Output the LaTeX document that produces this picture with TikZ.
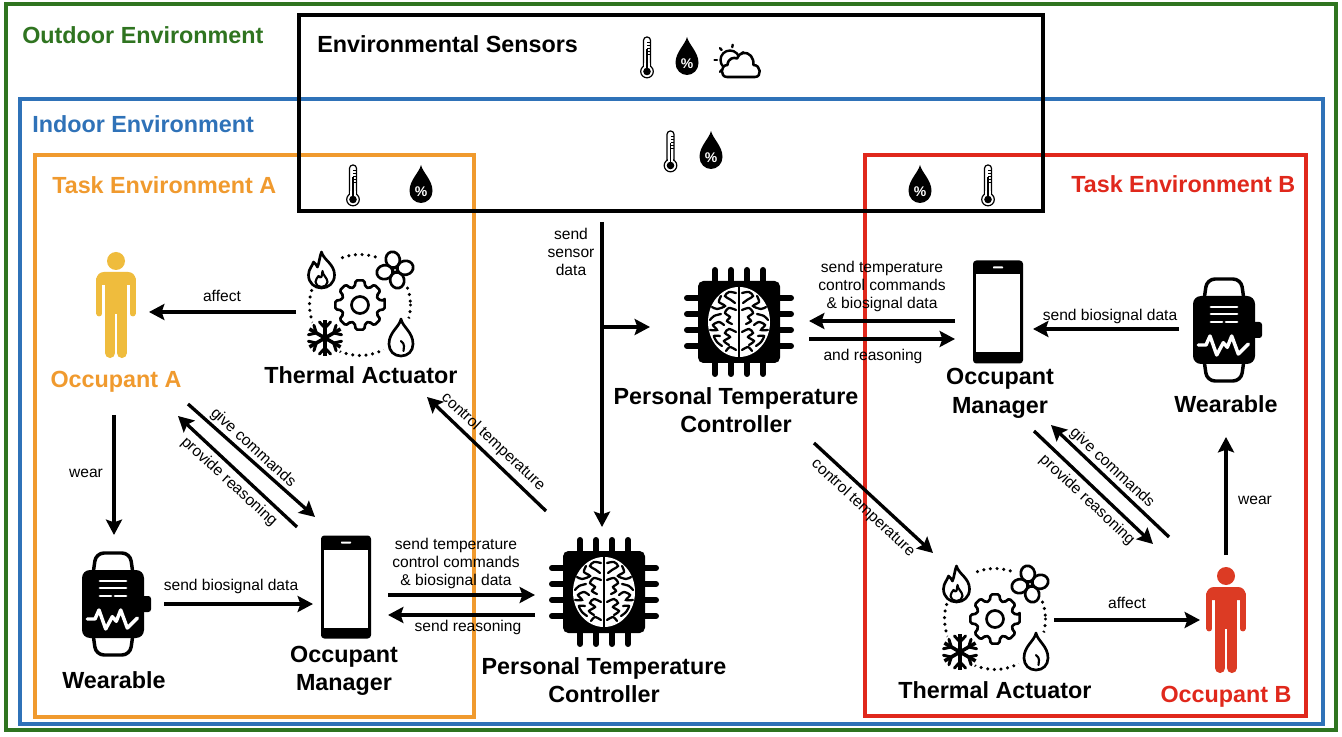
\documentclass[tikz,border=0pt]{standalone}
\usepackage{fontspec}
\setmainfont{Liberation Sans}
\usetikzlibrary{arrows.meta}
\definecolor{cgreen}{HTML}{2F7420}
\definecolor{cblue}{HTML}{2F72B8}
\definecolor{corange}{HTML}{F09A2E}
\definecolor{cred}{HTML}{E0281C}
\definecolor{cpy}{HTML}{EFBC3D}
\definecolor{cpr}{HTML}{DC3B24}
\tikzset{
  region/.style={draw,rectangle,line width=3pt,inner sep=0pt,outer sep=0pt},
  iconbox/.style={inner sep=0pt,outer sep=0pt,minimum size=1pt},
  arr/.style={line width=2.5pt,-{Stealth[length=11.5pt,width=12pt,inset=2pt]}},
  small/.style={font=\fontsize{11.7}{13.8}\selectfont,align=center,inner sep=0pt},
  big/.style={font=\fontsize{17.5}{21.4}\selectfont\bfseries,align=center,inner sep=0pt},
  head/.style={font=\fontsize{17.5}{20}\selectfont\bfseries,anchor=west,inner sep=0pt},
  ol/.style={line width=2pt,line join=round,line cap=round},
}
\newcommand{\iconThermo}[2]{\begin{scope}[shift={(#1,#2)}]
  \draw[line width=.9pt,fill=white,rounded corners=2.5pt] (-3.5,0) rectangle (3.5,34);
  \draw[line width=.9pt,fill=white] (0,34.5) circle[radius=6.3];
  \fill[white] (-2.8,26) rectangle (2.8,33);
  \fill (0,34.5) circle[radius=3.8];
  \draw[line width=1.4pt] (0,34) -- (0,12);
  \draw[line width=.6pt] (0,5)--(3.5,5) (0,8)--(3.5,8) (0,11)--(3.5,11) (0,14)--(3.5,14) (0,17)--(3.5,17);
\end{scope}}
\newcommand{\iconDrop}[3]{\begin{scope}[shift={(#2,#3)}]
  \fill (0,0) .. controls (2,8) and (11.5,15) .. (11.5,26) .. controls (11.5,33) and (6,38) .. (0,38) .. controls (-6,38) and (-11.5,33) .. (-11.5,26) .. controls (-11.5,15) and (-2,8) .. (0,0) -- cycle;
  \node[text=white,inner sep=0pt,font=\fontsize{10.5}{10.5}\selectfont\bfseries] (#1) at (0,26.5) {\%};
\end{scope}}
\newcommand{\iconCloud}[2]{\begin{scope}[shift={(#1,#2)}]
  \begin{scope}[shift={(15,17)}]
    \draw[line width=1.8pt] (0,0) circle[radius=9.5];
    \foreach \a in {20,-30,-80,-130,-180,130,80}{\draw[line width=1.8pt,line cap=round] (\a:13) -- (\a:15.5);}
  \end{scope}
  \draw[line width=1.9pt,fill=white,line join=round] (12,34) .. controls (5,34) and (5,22) .. (12.5,22) .. controls (13,15) and (19,14) .. (22,15.5) .. controls (24,9) and (32,8) .. (36,13) .. controls (38,16) and (39,19) .. (38.5,22) .. controls (46,22) and (47,34) .. (40,34) -- cycle;
\end{scope}}
\newcommand{\iconPerson}[3]{\begin{scope}[shift={(#1,#2)},#3]
  \fill[#3] (0,-44) circle[radius=9];
  \fill[#3] (-19.5,-20) [rounded corners=5.5pt] -- (-19.5,-33) -- (19.5,-33) [sharp corners] -- (19.5,-20) -- cycle;
  \fill[#3] (-11,-33) rectangle (11,9);
  \draw[#3,line width=4.4pt,line cap=round] (-16.6,-26) -- (-16.6,8.5);
  \draw[#3,line width=4.4pt,line cap=round] (16.6,-26) -- (16.6,8.5);
  \draw[#3,line width=7.6pt,line cap=round] (-5.8,5) -- (-5.8,48);
  \draw[#3,line width=7.6pt,line cap=round] (5.8,5) -- (5.8,48);
\end{scope}}
\newcommand{\iconPhone}[2]{\begin{scope}[shift={(#1,#2)}]
  \fill[rounded corners=2.5pt] (-25,-51.5) rectangle (25,51.5);
  \fill[white] (-22,-37.5) rectangle (22,40.5);
  \fill[white,rounded corners=.5pt] (-5,-45.5) rectangle (5,-43.5);
\end{scope}}
\newcommand{\iconWatch}[2]{\begin{scope}[shift={(#1,#2)}]
  \draw[line width=2.6pt,rounded corners=6pt] (-20,-30) -- (-17,-51) -- (17,-51) -- (20,-30);
  \draw[line width=2.6pt,rounded corners=6pt] (-20,30) -- (-17,51) -- (17,51) -- (20,30);
  \fill[rounded corners=2pt] (25,-8) rectangle (38,8);
  \fill[rounded corners=6pt] (-31,-34) rectangle (31,34);
  \draw[white,line width=2.2pt,line cap=round] (-13,-23)--(13,-23) (-13,-16)--(13,-16) (-13,-8)--(-2,-8) (2,-8)--(13,-8);
  \draw[white,line width=2.6pt,line cap=round,line join=round] (-25.7,15)--(-18,15)--(-14,6)--(-7.3,25)--(-0.7,12.7)--(3.3,17.3)--(7.7,6)--(14.3,24)--(24.3,14);
\end{scope}}
\newcommand{\brainHalf}{
  \draw[line width=1.7pt,line cap=round] plot[smooth] coordinates {(3,-29) (10,-30) (14,-26) (8,-22) (4,-19)};
  \draw[line width=1.7pt,line cap=round] plot[smooth] coordinates {(18,-26) (20,-20) (14,-16) (22,-13) (27,-15)};
  \draw[line width=1.7pt,line cap=round] plot[smooth] coordinates {(3,-12) (10,-14) (14,-9) (9,-5) (12,-1) (7,2)};
  \draw[line width=1.7pt,line cap=round] plot[smooth] coordinates {(18,-8) (25,-6) (29,-2)};
  \draw[line width=1.7pt,line cap=round] plot[smooth] coordinates {(15,3) (20,0) (26,3) (22,8) (29,8)};
  \draw[line width=1.7pt,line cap=round] plot[smooth] coordinates {(3,10) (10,7) (14,11) (9,15) (15,19) (10,23)};
  \draw[line width=1.7pt,line cap=round] plot[smooth] coordinates {(19,14) (25,14) (22,20) (17,24)};
  \draw[line width=1.7pt,line cap=round] plot[smooth] coordinates {(3,28) (9,25) (13,29)};
}
\newcommand{\iconChip}[2]{\begin{scope}[shift={(#1,#2)}]
  \foreach \p in {-24,-8,8,24}{
    \draw[line width=4.5pt,line cap=round] (\p,-52) -- (\p,52);
    \draw[line width=4.5pt,line cap=round] (-52,\p) -- (52,\p);
  }
  \fill[rounded corners=4pt] (-41,-41) rectangle (41,41);
  \fill[white] (0,0) ellipse[x radius=31,y radius=35];
  \draw[line width=1pt] (0,-35) -- (0,35);
  \brainHalf
  \begin{scope}[xscale=-1]\brainHalf\end{scope}
\end{scope}}
\newcommand{\iconActuator}[2]{\begin{scope}[shift={(#1,#2)}]
  \draw[line width=2.6pt,line cap=round,dash pattern=on 0pt off 5pt] (0,0) circle[radius=50.5];
  % gear
  \draw[ol,rounded corners=1.2pt] (-10:25) \foreach \a in {0,45,...,315}{ -- (\a-10:25) -- (\a+10:25) -- (\a+16:19) -- (\a+29:19) } -- cycle;
  \draw[ol] (0,0) circle[radius=8.5];
  % flame
  \begin{scope}[shift={(-38.5,-35)}]
    \fill[white] (0,0) circle[radius=21];
    \draw[ol] (0,-18) .. controls (2,-10) and (13,-6) .. (13,5) .. controls (13,13) and (7,18) .. (0,18) .. controls (-7,18) and (-13,13) .. (-13,5) .. controls (-13,-1) and (-9,-4) .. (-8,-8) .. controls (-6,-6) and (-5,-5) .. (-4,-3) .. controls (-2,-8) and (-2,-13) .. (0,-18) -- cycle;
    \draw[line width=1.6pt,line join=round] (1,1) .. controls (1,5) and (6,8) .. (6,12) .. controls (6,15) and (3,17) .. (0,17) .. controls (-3,17) and (-6,15) .. (-6,12) .. controls (-6,9) and (-4,8) .. (-3,6) .. controls (-2,7) and (-1,8) .. (0,7) .. controls (1,5) and (0,3) .. (1,1) -- cycle;
  \end{scope}
  % fan
  \begin{scope}[shift={(35,-35)}]
    \fill[white] (0,0) circle[radius=20];
    \foreach \a in {12,102,192,282}{\draw[ol,rotate=\a] (10.5,0) ellipse[x radius=8,y radius=7];}
    \draw[ol,fill=white] (0,0) circle[radius=2.5];
  \end{scope}
  % snowflake
  \begin{scope}[shift={(-35,33)}]
    \fill[white] (0,0) circle[radius=20];
    \foreach \a in {30,90,150,210,270,330}{
      \draw[line width=2.7pt,rotate=\a] (0,0) -- (18,0);
      \draw[line width=2.2pt,rotate=\a,line cap=round] (10,0) -- (16,-5.5) (10,0) -- (16,5.5);
    }
  \end{scope}
  % drop
  \begin{scope}[shift={(41,33)}]
    \fill[white] (0,0) circle[radius=21];
    \draw[ol,fill=white] (0,-19) .. controls (1.5,-11) and (12,-6) .. (12,6) .. controls (12,13) and (7,18) .. (0,18) .. controls (-7,18) and (-12,13) .. (-12,6) .. controls (-12,-6) and (-1.5,-11) .. (0,-19) -- cycle;
    \draw[line width=1.6pt,line cap=round] (0,3) .. controls (2,5) and (3,6) .. (3,8) -- (2.5,13);
  \end{scope}
\end{scope}}
\begin{document}
\begin{tikzpicture}[x=.75pt,y=-.75pt]
\useasboundingbox (0,0) rectangle (1342,737);
\fill[white] (0,0) rectangle (1342,737);
% regions
\node[region,draw=cgreen,minimum width=997.5pt,minimum height=544.5pt] (outdoor) at (671,367) {};
\node[region,draw=cblue,minimum width=977.25pt,minimum height=468.75pt] (indoor) at (671.5,411.5) {};
\node[region,draw=corange,minimum width=329.25pt,minimum height=421.5pt] (taskA) at (254.5,436) {};
\node[region,draw=cred,line width=2.6pt,minimum width=330.75pt,minimum height=420.75pt] (taskB) at (1085.5,435.5) {};
\node[region,draw=black,minimum width=558pt,minimum height=147pt] (sensors) at (671,113) {};
% region titles
\node[head,text=cgreen] (tOut) at (22,35) {Outdoor Environment};
\node[head,text=cblue] (tIn) at (32,124) {Indoor Environment};
\node[head,text=corange] (tA) at (52,185) {Task Environment A};
\node[head,text=cred] (tB) at (1071,184) {Task Environment B};
\node[head] (tS) at (317,44) {Environmental Sensors};
% sensors icons
\iconThermo{647}{37}
\iconDrop{pa}{687}{37}
\iconCloud{715}{43}
\iconThermo{670.5}{131}
\iconDrop{pb}{711}{131}
\iconThermo{353}{165}
\iconDrop{pc}{421}{165}
\iconDrop{pd}{920}{165}
\iconThermo{988}{165}
% icon anchors
\node[iconbox] (persA) at (116,305) {};
\node[iconbox] (actA) at (360,305) {};
\node[iconbox] (watchA) at (113,604) {};
\node[iconbox] (phoneA) at (346,587) {};
\node[iconbox] (chipA) at (604,592) {};
\node[iconbox] (chipB) at (739,322) {};
\node[iconbox] (phoneB) at (998,312) {};
\node[iconbox] (watchB) at (1224,330) {};
\node[iconbox] (actB) at (995,619) {};
\node[iconbox] (persB) at (1226,620) {};
\iconPerson{116}{305}{cpy}
\iconPerson{1226}{620}{cpr}
\iconActuator{360}{305}
\iconActuator{995}{619}
\iconWatch{113}{604}
\iconWatch{1224}{330}
\iconPhone{346}{587}
\iconPhone{998}{312}
\iconChip{604}{592}
\iconChip{739}{322}
% big labels
\node[big,text=corange] (lOccA) at (116,381.5) {Occupant A};
\node[big,text=cred] (lOccB) at (1226,696.5) {Occupant B};
\node[big] (lActA) at (361,375) {Thermal Actuator};
\node[big] (lActB) at (995,690) {Thermal Actuator};
\node[big] (lWearA) at (114,680) {Wearable};
\node[big] (lWearB) at (1226,404) {Wearable};
\node[big] (lMgrA) at (344,671) {Occupant\\Manager};
\node[big] (lMgrB) at (1000,393.5) {Occupant\\Manager};
\node[big] (lCtlA) at (604,680) {Personal Temperature\\Controller};
\node[big] (lCtlB) at (736,410) {Personal Temperature\\Controller};
% connectors
\coordinate (junc) at (602,327);
\draw[arr] ([shift={(-64,7)}]actA.center) -- ([shift={(33,7)}]persA.center);
\draw[arr] ([shift={(-2,110)}]persA.center) -- ([shift={(1,-69)}]watchA.center);
\draw[arr] ([shift={(72,99)}]persA.center) -- ([shift={(-31,-70)}]phoneA.center);
\draw[arr] ([shift={(-49,-60)}]phoneA.center) -- ([shift={(62,111)}]persA.center);
\draw[arr] ([shift={(51,0)}]watchA.center) -- ([shift={(-33,17)}]phoneA.center);
\draw[arr] ([shift={(42,8)}]phoneA.center) -- ([shift={(-69,3)}]chipA.center);
\draw[arr] ([shift={(-69,23)}]chipA.center) -- ([shift={(42,28)}]phoneA.center);
\draw[arr] ([shift={(-58,-81)}]chipA.center) -- ([shift={(67,92)}]actA.center);
\draw[arr] ([shift={(-69,109)}]sensors.center) -- ([shift={(-2,-65)}]chipA.center);
\draw[arr] (junc) -- ([shift={(-89,5)}]chipB.center);
\draw[arr] ([shift={(-43,9)}]phoneB.center) -- ([shift={(70,-1)}]chipB.center);
\draw[arr] ([shift={(70,17)}]chipB.center) -- ([shift={(-43,27)}]phoneB.center);
\draw[arr] ([shift={(-45,-1)}]watchB.center) -- ([shift={(35,17)}]phoneB.center);
\draw[arr] ([shift={(75,121)}]chipB.center) -- ([shift={(-62,-66)}]actB.center);
\draw[arr] ([shift={(-57,-83)}]persB.center) -- ([shift={(53,113)}]phoneB.center);
\draw[arr] ([shift={(36,119)}]phoneB.center) -- ([shift={(-73,-76)}]persB.center);
\draw[arr] ([shift={(0,-65)}]persB.center) -- ([shift={(2,107)}]watchB.center);
\draw[arr] ([shift={(59,1)}]actB.center) -- ([shift={(-26,0)}]persB.center);
% connector labels
\node[small] (e1) at (222,296) {affect};
\node[small] (e2) at (86,473) {wear};
\node[small,rotate=-42.5] (e3) at (253,448) {give commands};
\node[small,rotate=-42.5] (e4) at (229,482) {provide reasoning};
\node[small] (e5) at (231,586) {send biosignal data};
\node[small] (e6) at (456,563.5) {send temperature\\control commands\\\& biosignal data};
\node[small] (e7) at (468,627) {send reasoning};
\node[small,rotate=-43] (e8) at (493,442) {control temperature};
\node[small] (e9) at (571,252) {send\\sensor\\data};
\node[small] (e10) at (882,286.5) {send temperature\\control commands\\\& biosignal data};
\node[small] (e11) at (873,356) {and reasoning};
\node[small] (e12) at (1110,316) {send biosignal data};
\node[small,rotate=-43] (e13) at (863,508) {control temperature};
\node[small,rotate=-43] (e14) at (1112,468) {give commands};
\node[small,rotate=-43] (e15) at (1087,500) {provide reasoning};
\node[small] (e16) at (1255,500) {wear};
\node[small] (e17) at (1127,603) {affect};
\end{tikzpicture}
\end{document}
